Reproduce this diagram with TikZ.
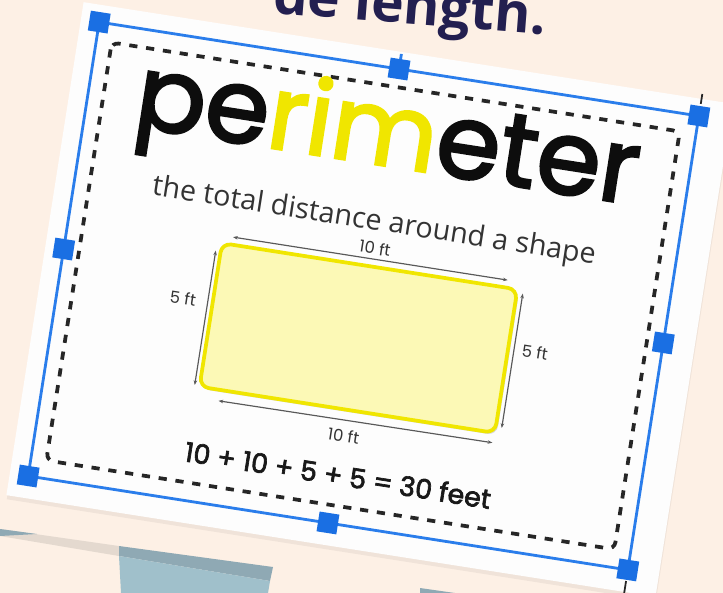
\documentclass[tikz,border=0pt]{standalone}
\usepackage{fontspec}
\usetikzlibrary{arrows.meta,positioning,calc,shadows}
\newfontfamily\roundfont{Poppins}
\newfontfamily\heavyround{Poppins}[FakeBold=2.5]
\newfontfamily\plainfont{Open Sans}
\definecolor{peach}{HTML}{FDF0E5}
\definecolor{cardwhite}{HTML}{FDFDFD}
\definecolor{selblue}{HTML}{2A7DEB}
\definecolor{handleblue}{HTML}{1A6FE3}
\definecolor{navy}{HTML}{231F50}
\definecolor{rimyellow}{HTML}{F0E600}
\definecolor{boxfill}{HTML}{FCF9B6}
\definecolor{slate}{HTML}{A0C0CB}
\definecolor{slatedark}{HTML}{8FA9B4}
\definecolor{sand}{HTML}{E4D9CF}

\begin{document}
\begin{tikzpicture}[x=0.03cm, y=-0.03cm,
  every node/.style={inner sep=0pt},
  card/.style={fill=cardwhite},
  frameline/.style={draw=selblue, line width=2.4pt},
  handle/.style={fill=handleblue, minimum size=0.6cm},
  dashbox/.style={draw=black!85, line width=3.2pt, dash pattern=on 7pt off 7.5pt, rounded corners=6pt},
  yellowbox/.style={draw=rimyellow, line width=3.2pt, fill=boxfill, rounded corners=8pt,
                    minimum width=8.97cm, minimum height=4.36cm,
                    drop shadow={shadow xshift=1.5pt, shadow yshift=-2pt, opacity=0.3}},
  dimline/.style={draw=black!65, line width=1pt, {Stealth[length=4pt,width=3pt]}-{Stealth[length=4pt,width=3pt]}},
  dimlabel/.style={font=\roundfont\fontsize{14}{14}\selectfont, text=black!80},
]
\useasboundingbox[fill=peach] (0,0) rectangle (723,593);

%% Shapes behind the card, bottom left
\fill[sand] (0,529) -- (119,546) -- (119,556) -- (0,536) -- cycle;
\fill[slatedark] (0,529) -- (37,534) -- (0,536) -- cycle;
\fill[slatedark] (119,546) -- (273,567) -- (270,581) -- (119,556) -- cycle;
\fill[slate] (119,556) -- (270,581) -- (268,593) -- (121,593) -- cycle;
\fill[slatedark] (420,588) -- (455,593) -- (420,593) -- cycle;

%% Heading line, cut by the top edge
\node[anchor=base west, rotate=-4.5, text=navy, font=\plainfont\bfseries\fontsize{47}{47}\selectfont]
  (heading) at (272,13) {de length.};

%% The card, turned with its selection frame
\begin{scope}[shift={(363.5,296)}, rotate=-8.9, transform shape]
  \fill[black, opacity=0.05] (-321,-244) rectangle (336,256);
  \fill[card] (-322,-247) rectangle (335,252);
  \draw[dashbox] (-288,-211.5) rectangle (287,211.5);

  %% Title and subtitle
  \node[anchor=base, font=\heavyround\fontsize{88}{88}\selectfont, text=black!95] (title) at (-1,-132)
    {pe\textcolor{rimyellow}{rim}eter};
  \node[anchor=base, font=\plainfont\fontsize{24.5}{24.5}\selectfont, text=black!80] (subtitle) at (-1,-67)
    {the total distance around a shape};

  %% Rectangle and its sides
  \node[yellowbox] (rect) at (1.5,42.3) {};
  \coordinate (topA) at (-138,-38);   \coordinate (topB) at (140,-38);
  \coordinate (leftA) at (-153,-22);  \coordinate (leftB) at (-153,114);
  \coordinate (rightA) at (157,-27);  \coordinate (rightB) at (157,109);
  \coordinate (botA) at (-127,126);   \coordinate (botB) at (150,125);
  \draw[dimline] (topA) -- (topB);
  \draw[dimline] (leftA) -- (leftB);
  \draw[dimline] (rightA) -- (rightB);
  \draw[dimline] (botA) -- (botB);
  \node[dimlabel] (topL) at (4,-49) {10 ft};
  \node[dimlabel] (leftL) at (-178,30) {5 ft};
  \node[dimlabel] (rightL) at (178,29) {5 ft};
  \node[dimlabel] (botL) at (2,141) {10 ft};

  %% Sum
  \node[anchor=base, font=\heavyround\fontsize{23}{23}\selectfont, text=black!90] (sum) at (2.5,191)
    {10 + 10 + 5 + 5 = 30 feet};

  %% Selection frame
  \coordinate (ftl) at (-303.5,-229.75); \coordinate (ftm) at (0,-229.75);
  \coordinate (ftr) at (303.5,-229.75);  \coordinate (fmr) at (303.5,0);
  \coordinate (fbr) at (303.5,229.75);   \coordinate (fbm) at (0,229.75);
  \coordinate (fbl) at (-303.5,229.75);  \coordinate (fml) at (-303.5,0);
  \coordinate (stem) at (0,-245);
  \draw[black!85, line width=1.5pt] (303.5,-252) -- (303.5,-242);
  \draw[black!85, line width=1.5pt] (303.5,241) -- (303.5,256);
  \draw[frameline] (ftl) -- (ftr) -- (fbr) -- (fbl) -- cycle;
  \draw[frameline] (ftm) -- (stem);
  \foreach \p in {ftl,ftm,ftr,fmr,fbr,fbm,fbl,fml}
    \node[handle] (h-\p) at (\p) {};
\end{scope}
\end{tikzpicture}
\end{document}
